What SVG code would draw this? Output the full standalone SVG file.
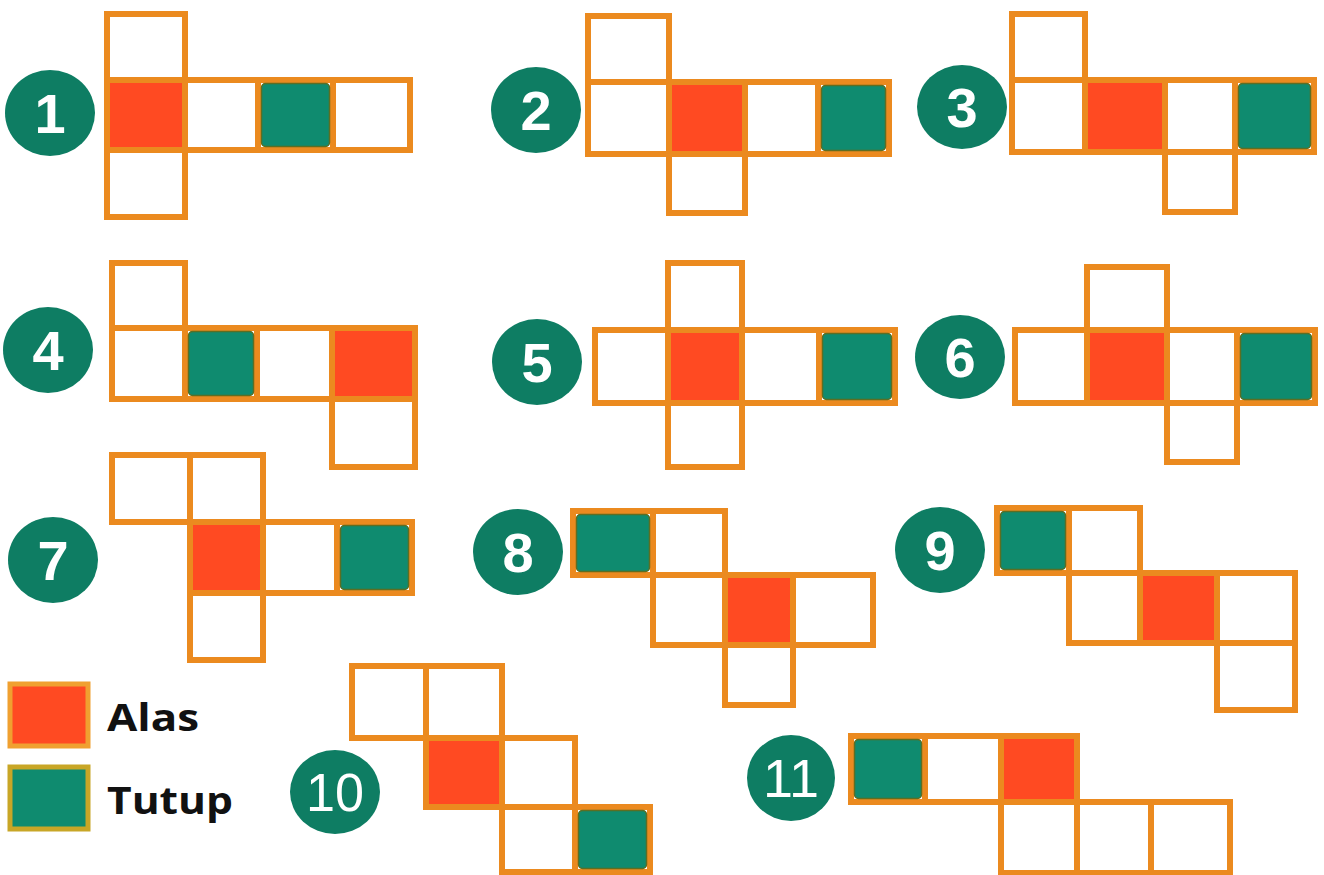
<svg xmlns="http://www.w3.org/2000/svg" width="1324" height="875" viewBox="0 0 1324 875">
<style>
.c{fill:#fff;stroke:#EB8A1F;stroke-width:6;stroke-linejoin:miter}
.r{fill:#FF4A22;stroke:#EB8A1F;stroke-width:6}
.g{fill:#0F8B6F;stroke:#5E6E22;stroke-width:1.5}
.b{fill:#0E7D63}
.n{fill:#fff;font-family:"Liberation Sans",Arial,sans-serif;font-weight:bold;font-size:56px;text-anchor:middle}
.n2{fill:#fff;font-family:"Liberation Sans",Arial,sans-serif;font-size:54px;text-anchor:middle}
.lt{fill:#111;font-family:"Open Sans","Liberation Sans",sans-serif;font-weight:bold;font-size:38px}
</style>
<rect width="1324" height="875" fill="#fff"/>

<g id="net1">
<ellipse class="b" cx="50" cy="113" rx="45" ry="43"/>
<text class="n" x="50" y="133">1</text>
<rect class="c" x="107" y="14" width="78" height="66"/>
<rect class="r" x="107" y="80" width="78" height="70"/>
<rect class="c" x="185" y="80" width="73" height="70"/>
<rect class="c" x="258" y="80" width="75" height="70"/>
<rect class="c" x="333" y="80" width="77" height="70"/>
<rect class="c" x="107" y="150" width="78" height="67"/>
<rect class="g" x="261.5" y="83.5" width="68" height="63" rx="4"/>
</g>

<g id="net2">
<ellipse class="b" cx="536" cy="110" rx="45" ry="43"/>
<text class="n" x="536" y="130">2</text>
<rect class="c" x="588" y="16" width="81" height="66"/>
<rect class="c" x="588" y="82" width="81" height="72"/>
<rect class="r" x="669" y="82" width="76" height="72"/>
<rect class="c" x="745" y="82" width="73" height="72"/>
<rect class="c" x="818" y="82" width="71" height="72"/>
<rect class="c" x="669" y="154" width="76" height="59"/>
<rect class="g" x="821.5" y="85.5" width="64" height="65" rx="4"/>
</g>

<g id="net3">
<ellipse class="b" cx="962" cy="107" rx="45" ry="42"/>
<text class="n" x="962" y="127">3</text>
<rect class="c" x="1012" y="14" width="73" height="66"/>
<rect class="c" x="1012" y="80" width="73" height="72"/>
<rect class="r" x="1085" y="80" width="80" height="72"/>
<rect class="c" x="1165" y="80" width="70" height="72"/>
<rect class="c" x="1235" y="80" width="79" height="72"/>
<rect class="c" x="1165" y="152" width="70" height="60"/>
<rect class="g" x="1238.5" y="83.5" width="72" height="65" rx="4"/>
</g>

<g id="net4">
<ellipse class="b" cx="48" cy="350" rx="45" ry="43"/>
<text class="n" x="48" y="370">4</text>
<rect class="c" x="112" y="263" width="73" height="65"/>
<rect class="c" x="112" y="328" width="73" height="71"/>
<rect class="c" x="185" y="328" width="72" height="71"/>
<rect class="c" x="257" y="328" width="75" height="71"/>
<rect class="r" x="332" y="328" width="83" height="71"/>
<rect class="c" x="332" y="399" width="83" height="68"/>
<rect class="g" x="188.5" y="331.5" width="65" height="64" rx="4"/>
</g>

<g id="net5">
<ellipse class="b" cx="537" cy="362" rx="45" ry="43"/>
<text class="n" x="537" y="382">5</text>
<rect class="c" x="668" y="263" width="74" height="67"/>
<rect class="c" x="595" y="330" width="73" height="73"/>
<rect class="r" x="668" y="330" width="74" height="73"/>
<rect class="c" x="742" y="330" width="77" height="73"/>
<rect class="c" x="819" y="330" width="76" height="73"/>
<rect class="c" x="668" y="403" width="74" height="64"/>
<rect class="g" x="822.5" y="333.5" width="69" height="66" rx="4"/>
</g>

<g id="net6">
<ellipse class="b" cx="960" cy="357" rx="45" ry="42"/>
<text class="n" x="960" y="377">6</text>
<rect class="c" x="1087" y="267" width="80" height="63"/>
<rect class="c" x="1015" y="330" width="72" height="73"/>
<rect class="r" x="1087" y="330" width="80" height="73"/>
<rect class="c" x="1167" y="330" width="70" height="73"/>
<rect class="c" x="1237" y="330" width="78" height="73"/>
<rect class="c" x="1167" y="403" width="70" height="59"/>
<rect class="g" x="1240.5" y="333.5" width="71" height="66" rx="4"/>
</g>

<g id="net7">
<ellipse class="b" cx="53" cy="560" rx="45" ry="43"/>
<text class="n" x="53" y="580">7</text>
<rect class="c" x="112" y="455" width="78" height="67"/>
<rect class="c" x="190" y="455" width="73" height="67"/>
<rect class="r" x="190" y="522" width="73" height="71"/>
<rect class="c" x="263" y="522" width="74" height="71"/>
<rect class="c" x="337" y="522" width="75" height="71"/>
<rect class="c" x="190" y="593" width="73" height="67"/>
<rect class="g" x="340.5" y="525.5" width="68" height="64" rx="4"/>
</g>

<g id="net8">
<ellipse class="b" cx="518" cy="552" rx="45" ry="43"/>
<text class="n" x="518" y="572">8</text>
<rect class="c" x="573" y="511" width="80" height="64"/>
<rect class="c" x="653" y="511" width="72" height="64"/>
<rect class="c" x="653" y="575" width="72" height="70"/>
<rect class="r" x="725" y="575" width="68" height="70"/>
<rect class="c" x="793" y="575" width="80" height="70"/>
<rect class="c" x="725" y="645" width="68" height="60"/>
<rect class="g" x="576.5" y="514.5" width="73" height="57" rx="4"/>
</g>

<g id="net9">
<ellipse class="b" cx="940" cy="550" rx="45" ry="43"/>
<text class="n" x="940" y="570">9</text>
<rect class="c" x="997" y="508" width="72" height="65"/>
<rect class="c" x="1069" y="508" width="71" height="65"/>
<rect class="c" x="1069" y="573" width="71" height="70"/>
<rect class="r" x="1140" y="573" width="77" height="70"/>
<rect class="c" x="1217" y="573" width="78" height="70"/>
<rect class="c" x="1217" y="643" width="78" height="67"/>
<rect class="g" x="1000.5" y="511.5" width="65" height="58" rx="4"/>
</g>

<g id="net10">
<ellipse class="b" cx="335" cy="792" rx="45" ry="42"/>
<text class="n2" x="335" y="811" textLength="58" lengthAdjust="spacingAndGlyphs">10</text>
<rect class="c" x="352" y="666" width="74" height="72"/>
<rect class="c" x="426" y="666" width="76" height="72"/>
<rect class="r" x="426" y="738" width="76" height="69"/>
<rect class="c" x="502" y="738" width="73" height="69"/>
<rect class="c" x="502" y="807" width="73" height="65"/>
<rect class="c" x="575" y="807" width="75" height="65"/>
<rect class="g" x="578.5" y="810.5" width="68" height="58" rx="4"/>
</g>

<g id="net11">
<ellipse class="b" cx="791" cy="778" rx="44" ry="43"/>
<text class="n2" x="791" y="797" textLength="56" lengthAdjust="spacingAndGlyphs">11</text>
<rect class="c" x="851" y="736" width="74" height="66"/>
<rect class="c" x="925" y="736" width="76" height="66"/>
<rect class="r" x="1001" y="736" width="76" height="66"/>
<rect class="c" x="1001" y="802" width="76" height="71"/>
<rect class="c" x="1077" y="802" width="74" height="71"/>
<rect class="c" x="1151" y="802" width="79" height="71"/>
<rect class="g" x="854.5" y="739.5" width="67" height="59" rx="4"/>
</g>

<g id="legend">
<rect x="10" y="684" width="78" height="62" fill="#FF4A22" stroke="#F0A030" stroke-width="5"/>
<text class="lt" x="107" y="731" textLength="92" lengthAdjust="spacingAndGlyphs">Alas</text>
<rect x="10" y="767" width="78" height="62" fill="#0F8B6F" stroke="#C8A626" stroke-width="5"/>
<text class="lt" x="107" y="814" textLength="126" lengthAdjust="spacingAndGlyphs">Tutup</text>
</g>
</svg>
